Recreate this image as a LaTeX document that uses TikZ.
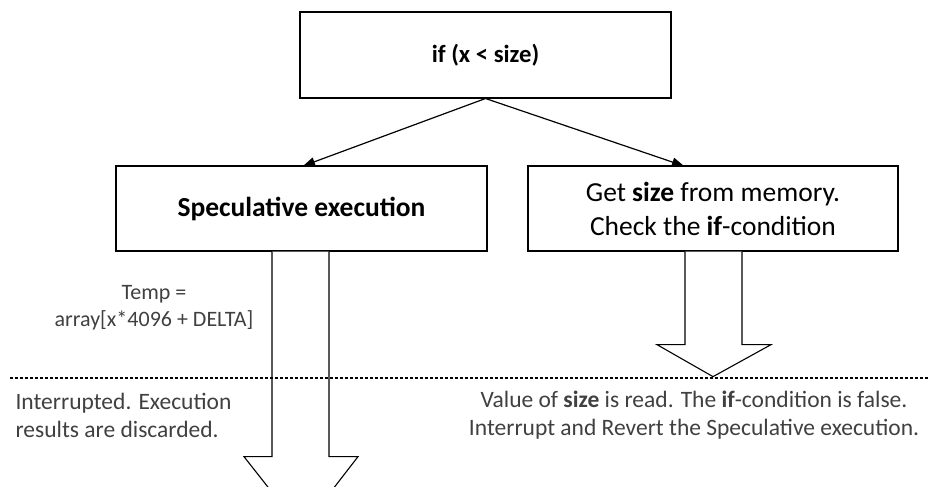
\documentclass[tikz,border=0pt]{standalone}
\usepackage{fontspec}
\setmainfont{Carlito}
\usetikzlibrary{calc,arrows.meta}

\definecolor{labelgray}{HTML}{404040}

\tikzset{
	box/.style={draw=black, line width=1.3pt, minimum width=371pt, minimum height=85pt, align=center, font=\fontsize{27.5}{34}\selectfont},
	note/.style={text=labelgray, font=\fontsize{23.5}{28}\selectfont},
	branch/.style={-{Triangle[length=12pt,width=9pt]}, line width=1.2pt},
	hollow/.style={draw=black, line width=1.1pt, fill=white}
}

\begin{document}
\begin{tikzpicture}[x=1pt, y=-1pt]

	\useasboundingbox (0,0) rectangle (929,487);

	    % boxes
	    \node[box, line width=2pt, font=\fontsize{24.7}{30}\selectfont] (cond) at (485.5,55) {\textbf{if (x < size)}};
	    \node[box] (spec) at (301.5,208.5) {\textbf{Speculative execution}};
	    \node[box, minimum width=370pt] (check) at (713,208.5) {Get \textbf{size} from memory.\\Check the \textbf{if}-condition};

	    % branches
	    \coordinate (specin) at (303,166) ;
	    \coordinate (checkin) at (684,166) ;
	    \draw[branch] (cond.south) -- (specin);
	    \draw[branch] (cond.south) -- (checkin);

	    % hollow arrows
	    \draw[hollow] ($(spec.south)+(-29.5,0)$) -- ++(0,205) -- ++(-28,0) -- ($(spec.south)+(0,278)$)
	        -- ($(spec.south)+(56.5,205)$) -- ++(-29,0) -- ($(spec.south)+(27.5,0)$);
	    \draw[hollow] ($(check.south)+(-28,0)$) -- ++(0,93) -- ++(-28,0) -- ($(check.south)+(0,125)$)
	        -- ($(check.south)+(58,93)$) -- ++(-29,0) -- ($(check.south)+(29,0)$);

	    % time line
	    \coordinate (lineA) at (10,378) ;
	    \coordinate (lineB) at (929,378) ;
	    \draw[line width=1.3pt, dash pattern=on 2.5pt off 2.5pt] (lineA) -- (lineB);

	    % notes
	    \node[note, align=center, font=\fontsize{22}{27}\selectfont] (temp) at (154,308) {Temp =\\array[x*4096 + DELTA]};
	    \node[note, align=left, anchor=west] (discard) at (12,415) {Interrupted. Execution\\results are discarded.};
	    \node[note, align=center] (revert) at (694,415) {Value of \textbf{size} is read. The \textbf{if}-condition is false.\\Interrupt and Revert the Speculative execution.};

\end{tikzpicture}
\end{document}
